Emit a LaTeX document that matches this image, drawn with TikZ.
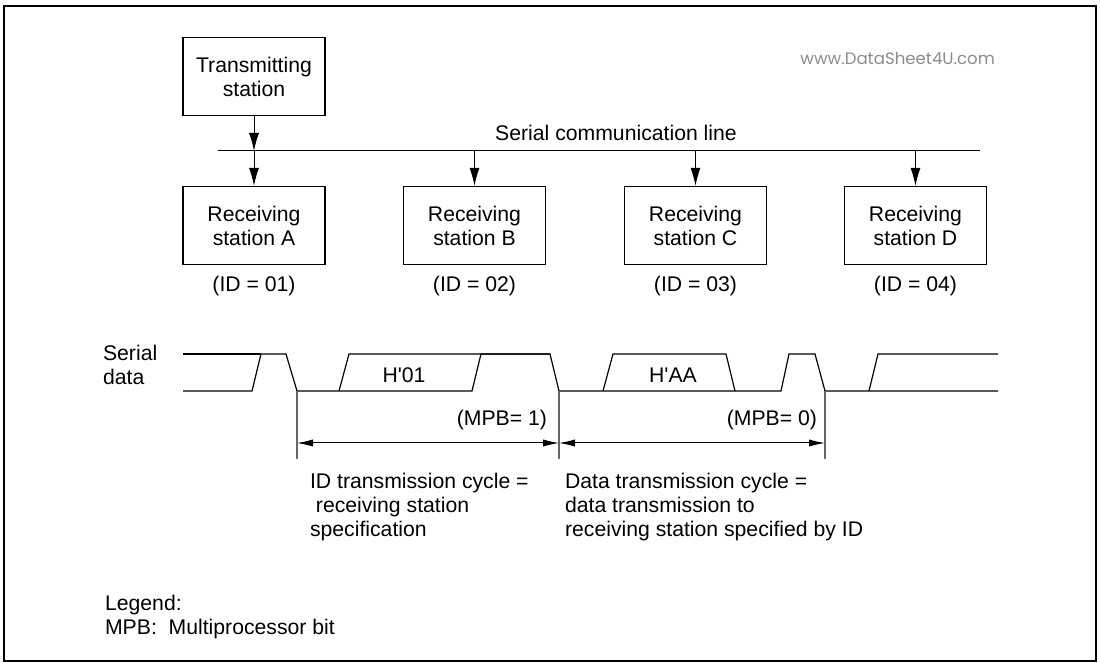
\documentclass[tikz,border=0pt]{standalone}
\usepackage{fontspec}
\setmainfont{Liberation Sans}
\newfontfamily\wmfont{Poppins}
\usepackage{tikz}
\usetikzlibrary{positioning, arrows.meta}

\begin{document}
\begin{tikzpicture}[x=0.5pt, y=-0.5pt, node distance=2pt,
    font=\fontsize{10.6}{12}\selectfont,
    station/.style={rectangle, draw, line width=0.6pt, minimum width=71pt, minimum height=39pt, align=center, inner sep=0pt},
    feed/.style={-{Latex[length=9pt, width=5pt]}, line width=0.5pt},
    span/.style={{Latex[length=8pt, width=3.6pt]}-{Latex[length=8pt, width=3.6pt]}, line width=0.5pt},
    wave/.style={line width=0.6pt}]
    \useasboundingbox (0,0) rectangle (1100,663);
    \draw[line width=1.2pt] (4,6) rectangle (1096,661);

    % stations on the line
    \node (trans) [station] at (254,76.5) {Transmitting\\station};
    \node (recA) [station] at (254,225.5) {Receiving\\station A};
    \node (recB) [station] at (474.5,225.5) {Receiving\\station B};
    \node (recC) [station] at (695.5,225.5) {Receiving\\station C};
    \node (recD) [station] at (915.5,225.5) {Receiving\\station D};
    \node (idA) [below=2pt of recA] {(ID = 01)};
    \node (idB) [below=2pt of recB] {(ID = 02)};
    \node (idC) [below=2pt of recC] {(ID = 03)};
    \node (idD) [below=2pt of recD] {(ID = 04)};

    \coordinate (busL) at (218,151);
    \coordinate (busR) at (980,151);
    \draw[line width=0.5pt] (busL) -- (busR);
    \node (busname) at (616,133) {Serial communication line};
    \node (wm) [anchor=east, text=black!45, font=\wmfont\fontsize{8.3}{10}\selectfont] at (1002,58) {www.DataSheet4U.com};

    \draw[feed] (trans) -- (trans |- busL);
    \foreach \r in {A,B,C,D}
        \draw[feed] (rec\r.north |- busL) -- (rec\r);

    % serial data waveform
    \node (sdata) [anchor=west, align=left] at (96,364.5) {Serial\\data};
    \draw[wave] (183,391) -- (252,391) -- (261,354) -- (286,354) -- (297,391) -- (472,391) -- (481,354) -- (550,354)
        -- (559,391) -- (781,391) -- (789,354) -- (815,354) -- (825,391) -- (998,391);
    \draw[wave] (183,354) -- (261,354);
    \draw[wave] (339,391) -- (349,354) -- (550,354);
    \draw[wave] (603,391) -- (613,354) -- (726,354) -- (735,391);
    \draw[wave] (869,391) -- (878,354) -- (998,354);
    \node (h01) at (404,375) {H\textquotesingle 01};
    \node (haa) at (673,375) {H\textquotesingle AA};

    % cycles
    \coordinate (cyc0) at (297,443);
    \coordinate (cyc1) at (559,443);
    \coordinate (cyc2) at (825,443);
    \foreach \c in {297,559,825}
        \draw[black!60, line width=0.6pt] (\c,391) -- (\c,459);
    \draw[span] (cyc0) -- (cyc1);
    \draw[span] (cyc1) -- (cyc2);
    \node (mpb1) [anchor=east] at (554,420) {(MPB= 1)};
    \node (mpb0) [anchor=east] at (824,420) {(MPB= 0)};
    \node (idcyc) [anchor=west, align=left] at (303,507) {ID transmission cycle =\\\ receiving station\\specification};
    \node (datacyc) [anchor=west, align=left] at (558,507) {Data transmission cycle =\\data transmission to\\receiving station specified by ID};

    \node (legend) [anchor=west, align=left] at (98,617) {Legend:\\MPB:\ \ Multiprocessor bit};
\end{tikzpicture}
\end{document}
